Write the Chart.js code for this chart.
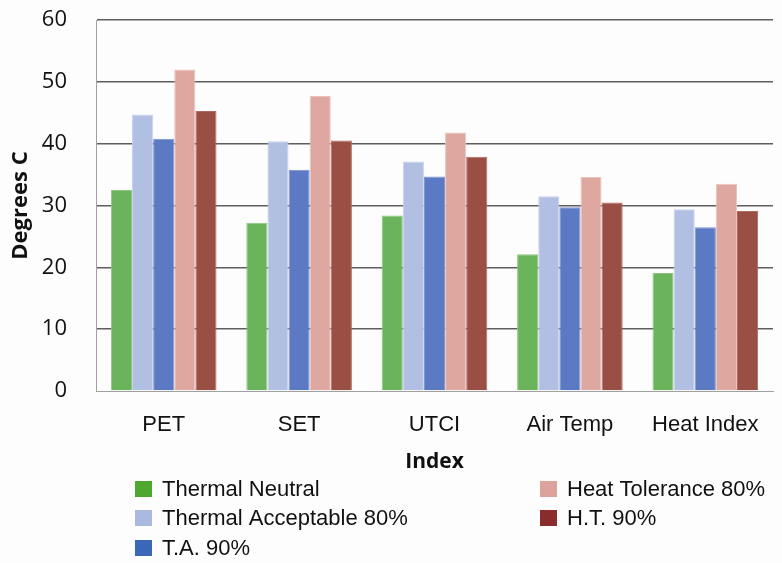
<!DOCTYPE html>
<html>
<head>
<meta charset="utf-8">
<script src="https://cdn.jsdelivr.net/npm/chart.js@4/dist/chart.umd.min.js"></script>
<style>
  html, body { margin: 0; padding: 0; background: #fdfdfd; }
  #wrap { width: 782px; height: 563px; position: relative; }
</style>
</head>
<body>
<div id="wrap"><canvas id="c" width="782" height="563"></canvas></div>
<script>
// Comfort thresholds by thermal index (degrees C)
const categories = ['PET', 'SET', 'UTCI', 'Air Temp', 'Heat Index'];
const seriesNames = ['Thermal Neutral', 'Thermal Acceptable 80%', 'T.A. 90%', 'Heat Tolerance 80%', 'H.T. 90%'];
const thermalNeutral    = [32.5, 27.2, 28.4, 22.1, 19.1];
const thermalAcceptable = [44.7, 40.4, 37.1, 31.5, 29.4];
const ta90              = [40.8, 35.8, 34.7, 29.7, 26.5];
const heatTolerance80   = [52.0, 47.7, 41.8, 34.6, 33.5];
const ht90              = [45.3, 40.5, 37.9, 30.5, 29.1];
const yTicks = [0, 10, 20, 30, 40, 50, 60];

const seriesValues = [thermalNeutral, thermalAcceptable, ta90, heatTolerance80, ht90];
const barFill   = ['#6cb45c', '#b1bfe2', '#5c79c4', '#dea8a0', '#9a4f45'];
const barEdge   = ['#8cc87f', '#c9d3ee', '#7c93d2', '#ebc3bd', '#b06a60'];
const keyFill   = ['#4ea72e', '#a9b9e0', '#3a68b8', '#dba39c', '#8a2b2e'];

// Key entries fill three rows down the first column, then the second
const keyPlugin = {
  id: 'twoColumnKey',
  afterDraw(chart) {
    const ctx = chart.ctx;
    const colX = [135, 540];
    const rowY = [489, 518, 548];
    ctx.save();
    ctx.font = '22px "Liberation Sans", Arial, sans-serif';
    ctx.textBaseline = 'middle';
    ctx.textAlign = 'left';
    chart.data.datasets.forEach((ds, i) => {
      const x = colX[Math.floor(i / 3)];
      const y = rowY[i % 3];
      ctx.fillStyle = keyFill[i];
      ctx.fillRect(x, y - 8, 17, 16);
      ctx.fillStyle = '#111';
      ctx.fillText(ds.label, x + 27, y + 1);
    });
    ctx.restore();
  }
};

new Chart(document.getElementById('c'), {
  type: 'bar',
  data: {
    labels: categories,
    datasets: seriesNames.map((name, i) => ({
      label: name,
      data: seriesValues[i],
      backgroundColor: barFill[i],
      borderColor: barEdge[i],
      borderWidth: 1,
      categoryPercentage: 0.78,
      barPercentage: 1.0
    }))
  },
  options: {
    responsive: false,
    animation: false,
    devicePixelRatio: 1,
    layout: { padding: { top: 20, right: 9, bottom: 88, left: 0 } },
    plugins: {
      legend: { display: false },
      tooltip: { enabled: false }
    },
    scales: {
      x: {
        grid: { display: false, drawTicks: false },
        border: { display: true, color: '#a0a0a0', width: 1 },
        ticks: {
          color: '#111',
          padding: 21,
          font: { family: '"Liberation Sans", Arial, sans-serif', size: 22 }
        },
        title: {
          display: true,
          text: 'Index',
          color: '#111',
          padding: { top: 0, bottom: 0 },
          font: { family: '"Open Sans", sans-serif', size: 21, weight: 'bold' }
        },
        afterFit(scale) { scale.height = 84; }
      },
      y: {
        min: 0,
        max: 60,
        afterBuildTicks(scale) { scale.ticks = yTicks.map(v => ({ value: v })); },
        grid: {
          drawTicks: false,
          color: (c) => c.tick && c.tick.value === 0 ? 'rgba(0,0,0,0)' : '#5e5e5e',
          lineWidth: 1.6
        },
        border: { display: true, color: '#a0a0a0', width: 1 },
        ticks: {
          color: '#111',
          padding: 29,
          font: { family: '"Open Sans", sans-serif', size: 22 }
        },
        title: {
          display: true,
          text: 'Degrees C',
          color: '#111',
          padding: { top: 8, bottom: 0 },
          font: { family: '"Open Sans", sans-serif', size: 22, weight: 'bold' }
        },
        afterFit(scale) {
          scale.width = 96;
          // top label only needs half its height of room above the plot
          scale.paddingTop = 14;
          scale.paddingBottom = 14;
        }
      }
    }
  },
  plugins: [keyPlugin]
});
</script>
</body>
</html>
